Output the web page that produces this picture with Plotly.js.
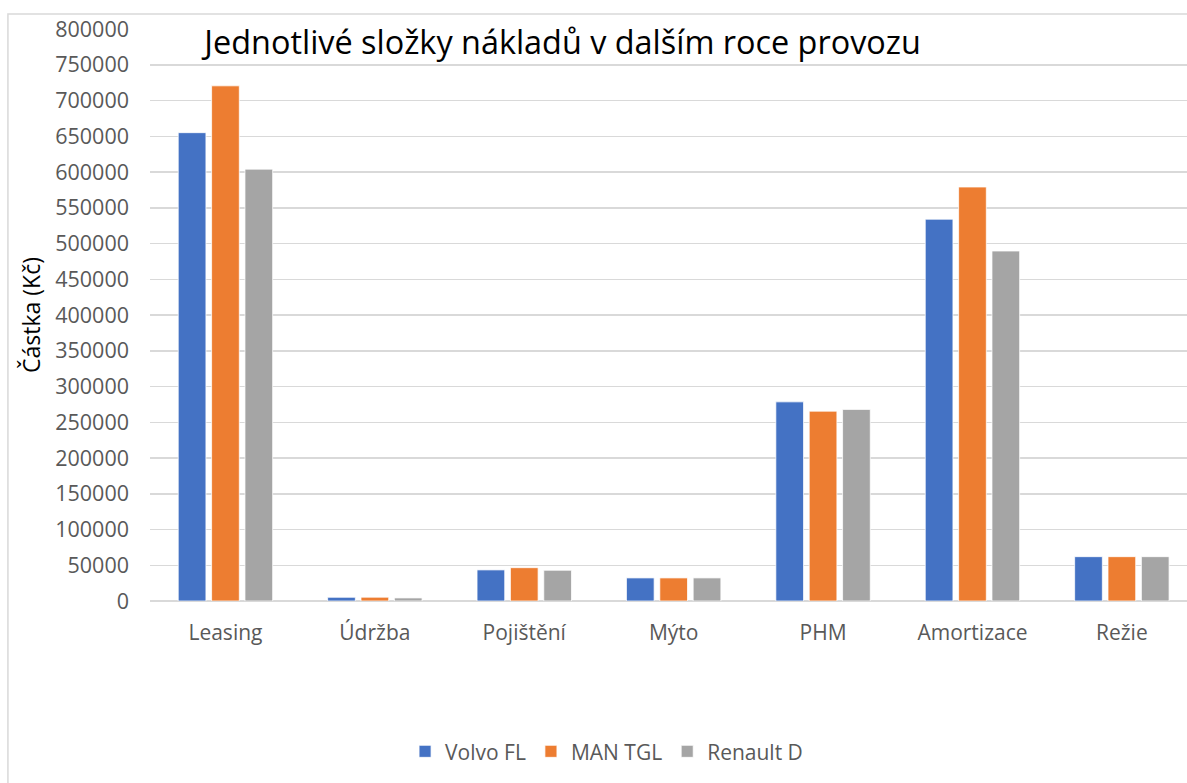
<!DOCTYPE html>
<html>
<head>
<meta charset="utf-8">
<script src="https://cdn.plot.ly/plotly-3.0.1.min.js"></script>
<style>html,body{margin:0;padding:0;background:#fff;overflow:hidden}#chart{width:1187px;height:783px}</style>
</head>
<body>
<div id="chart"></div>
<script>
const categories = ["Leasing", "Údržba", "Pojištění", "Mýto", "PHM", "Amortizace", "Režie"];
const volvoFL   = [655000, 5200, 43500, 32300, 278500, 534000, 62000];
const manTGL    = [720500, 5300, 46600, 32300, 265500, 579000, 62000];
const renaultD  = [604000, 4300, 43000, 32300, 268000, 489500, 62000];
const seriesNames = ["Volvo FL", "MAN TGL", "Renault D"];
const yTicks = [0,50000,100000,150000,200000,250000,300000,350000,400000,450000,500000,550000,600000,650000,700000,750000,800000];

const colors = ["#4472C4", "#ED7D31", "#A5A5A5"];
const font = "'Open Sans', 'Noto Sans', sans-serif";
const traces = [volvoFL, manTGL, renaultD].map((vals, i) => ({
  type: "bar",
  name: seriesNames[i],
  x: categories,
  y: vals,
  marker: {color: colors[i], line: {color: "#ffffff", width: 0.75}},
  hoverinfo: "x+y+name"
}));

const layout = {
  width: 1187, height: 783,
  margin: {l: 150, r: 0, t: 29, b: 182},
  paper_bgcolor: "#ffffff", plot_bgcolor: "#ffffff",
  font: {family: font, color: "#595959", size: 21},
  title: {
    text: "Jednotlivé složky nákladů v dalším roce provozu",
    font: {family: font, size: 32.4, color: "#000000"},
    xref: "container", yref: "container",
    x: 0.474, xanchor: "center", y: 0.945, yanchor: "middle"
  },
  barmode: "group",
  bargap: 0.33,
  bargroupgap: 0.17,
  xaxis: {
    type: "category",
    range: [-0.505, 6.436],
    showgrid: false, zeroline: false, showline: false,
    ticks: "", ticklabelstandoff: 17,
    tickfont: {family: font, size: 21, color: "#595959"}
  },
  yaxis: {
    range: [0, 800000],
    tickvals: yTicks,
    ticktext: yTicks.map(String),
    showgrid: true, gridcolor: "#d9d9d9", gridwidth: 1.5,
    zeroline: true, zerolinecolor: "#d9d9d9", zerolinewidth: 1.5,
    showline: false, ticks: "", ticklabelstandoff: 20,
    tickfont: {family: font, size: 21.5, color: "#595959"},
    title: {text: "Částka (Kč)", font: {family: font, size: 23, color: "#000000"}, standoff: 8}
  },
  legend: {
    orientation: "h",
    xref: "container", yref: "container",
    x: 0.511, xanchor: "center", y: 0.04, yanchor: "middle",
    font: {family: font, size: 21, color: "#595959"},
    itemwidth: 30
  },
  shapes: [{
    type: "rect", xref: "paper", yref: "paper",
    x0: -0.137, x1: 1.2, y0: -0.5, y1: 1.0262,
    line: {color: "#d9d9d9", width: 1.5}, layer: "below"
  }]
};

Plotly.newPlot("chart", traces, layout, {displayModeBar: false, staticPlot: true});
</script>
</body>
</html>
